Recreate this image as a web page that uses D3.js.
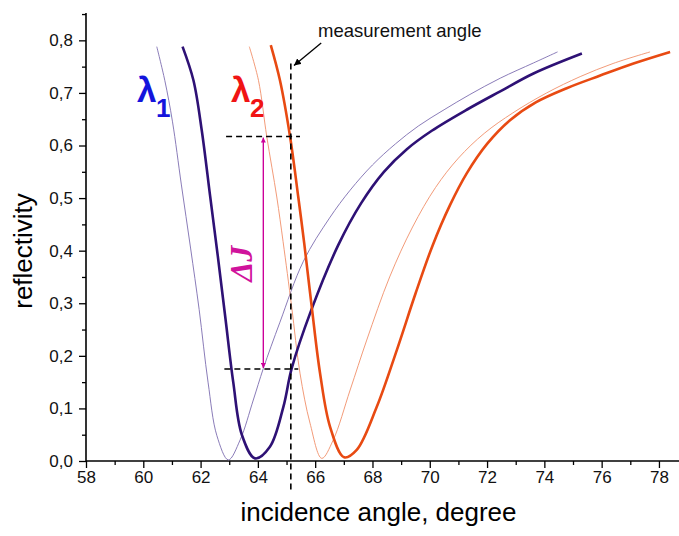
<!DOCTYPE html>
<html>
<head>
<meta charset="utf-8">
<script src="https://cdn.jsdelivr.net/npm/d3@7"></script>
<style>
  body { margin: 0; background: #fff; }
  svg { display: block; font-family: "Liberation Sans", Arial, sans-serif; }
</style>
</head>
<body>
<svg id="chart"></svg>
<script>
// reflectivity curves: [incidence angle, reflectivity]
const lambda1Thin = [[60.47,0.788],[60.75,0.724],[61.02,0.645],[61.33,0.525],[61.65,0.405],[61.95,0.288],[62.26,0.150],[62.57,0.048],[62.97,0.002],[63.38,0.040],[63.84,0.116],[64.19,0.176],[64.77,0.264],[65.59,0.380],[66.5,0.462],[67.22,0.515],[68.0,0.563],[68.8,0.603],[69.6,0.637],[70.5,0.668],[71.4,0.697],[72.46,0.728],[73.62,0.757],[74.46,0.778]];
const lambda1Thick = [[61.37,0.788],[61.75,0.724],[62.04,0.629],[62.33,0.505],[62.60,0.390],[62.87,0.270],[63.14,0.150],[63.44,0.050],[63.90,0.005],[64.42,0.027],[64.89,0.103],[65.18,0.176],[65.85,0.285],[66.8,0.410],[67.6,0.490],[68.4,0.550],[69.2,0.593],[70.07,0.628],[71.29,0.668],[72.46,0.703],[73.62,0.737],[75.31,0.775]];
const lambda2Thin = [[63.70,0.788],[64.02,0.724],[64.31,0.617],[64.66,0.502],[64.88,0.417],[65.18,0.293],[65.47,0.167],[65.82,0.072],[66.23,0.005],[66.63,0.040],[67.22,0.135],[67.80,0.230],[68.6,0.350],[69.4,0.445],[70.2,0.520],[71.0,0.576],[71.9,0.623],[72.9,0.662],[74.08,0.700],[75.25,0.731],[76.4,0.756],[77.69,0.778]];
const lambda2Thick = [[64.45,0.791],[64.77,0.724],[65.12,0.618],[65.41,0.502],[65.62,0.413],[65.88,0.293],[66.17,0.167],[66.52,0.065],[67.01,0.007],[67.45,0.021],[68.15,0.103],[68.85,0.211],[69.5,0.318],[70.1,0.410],[70.71,0.487],[71.29,0.547],[72.0,0.603],[72.8,0.648],[73.7,0.682],[74.78,0.709],[75.95,0.733],[77.11,0.756],[78.39,0.778]];

// annotation values
const measurementAngle = 65.15;
const levelHigh = 0.617;
const levelLow = 0.175;
const deltaAngle = 64.19;

const xTicks = [58, 60, 62, 64, 66, 68, 70, 72, 74, 76, 78];
const xMinor = [59, 61, 63, 65, 67, 69, 71, 73, 75, 77];
const yTicks = [0, 0.1, 0.2, 0.3, 0.4, 0.5, 0.6, 0.7, 0.8];
const yMinor = [0.05, 0.15, 0.25, 0.35, 0.45, 0.55, 0.65, 0.75, 0.85];

const width = 679, height = 536;
const margin = { top: 13, right: 0, bottom: 75, left: 86 };

const svg = d3.select('#chart').attr('width', width).attr('height', height);

const x = d3.scaleLinear().domain([58, 78.7]).range([margin.left, width - margin.right]);
const y = d3.scaleLinear().domain([0, 0.852]).range([height - margin.bottom, margin.top]);

const comma = d => d3.format('.1f')(d).replace('.', ',');

// axes
const xAxisG = svg.append('g').attr('transform', `translate(0,${y(0)})`);
xAxisG.call(d3.axisBottom(x).tickValues(xTicks).tickSize(7).tickSizeOuter(0).tickPadding(3).tickFormat(d3.format('d')));
xAxisG.append('g').call(d3.axisBottom(x).tickValues(xMinor).tickSize(4).tickFormat(''))
  .select('.domain').remove();

const yAxisG = svg.append('g').attr('transform', `translate(${x(58)},0)`);
yAxisG.call(d3.axisLeft(y).tickValues(yTicks).tickSize(7).tickSizeOuter(0).tickPadding(6).tickFormat(comma));
yAxisG.append('g').call(d3.axisLeft(y).tickValues(yMinor).tickSize(4).tickFormat(''))
  .select('.domain').remove();

svg.selectAll('.domain').attr('stroke', '#000').attr('stroke-width', 1.6);
svg.selectAll('.tick line').attr('stroke', '#000').attr('stroke-width', 1.3);
svg.selectAll('.tick text').attr('font-size', 17).attr('fill', '#111')
  .attr('font-family', '"Liberation Sans", Arial, sans-serif');
// extend the axis lines to the frame edges
yAxisG.select('.domain').attr('d', `M0,${y(0)}V${margin.top}`);
xAxisG.select('.domain').attr('d', `M${x(58)},0H${width}`);

// axis titles
svg.append('text')
  .attr('x', (x(58) + width) / 2 - 4)
  .attr('y', 521)
  .attr('text-anchor', 'middle')
  .attr('font-size', 26)
  .text('incidence angle, degree');

svg.append('g')
  .attr('transform', `translate(32, 251)`)
  .append('text')
  .attr('transform', 'rotate(-90)')
  .attr('text-anchor', 'middle')
  .attr('font-size', 26)
  .text('reflectivity');

// curves
const line = d3.line()
  .x(d => x(d[0]))
  .y(d => y(d[1]))
  .curve(d3.curveCatmullRom.alpha(0.5));

const series = [
  { data: lambda1Thin, color: '#7d6db0', w: 0.9 },
  { data: lambda2Thin, color: '#f0906a', w: 0.9 },
  { data: lambda1Thick, color: '#2e1175', w: 2.6 },
  { data: lambda2Thick, color: '#e84a12', w: 2.6 }
];

svg.selectAll('path.curve').data(series)
  .join('path')
    .attr('class', 'curve')
    .attr('fill', 'none')
    .attr('stroke', d => d.color)
    .attr('stroke-width', d => d.w)
    .attr('stroke-linejoin', 'round')
    .attr('d', d => line(d.data));

// markers
const defs = svg.append('defs');
defs.append('marker')
  .attr('id', 'arrMag')
  .attr('viewBox', '0 0 10 10')
  .attr('refX', 10).attr('refY', 5)
  .attr('markerWidth', 5).attr('markerHeight', 5)
  .attr('orient', 'auto-start-reverse')
  .attr('markerUnits', 'userSpaceOnUse')
  .append('path').attr('d', 'M0,0L10,5L0,10z').attr('fill', '#cc0099');
defs.append('marker')
  .attr('id', 'arrBlk')
  .attr('viewBox', '0 0 10 10')
  .attr('refX', 10).attr('refY', 5)
  .attr('markerWidth', 7).attr('markerHeight', 7)
  .attr('orient', 'auto')
  .attr('markerUnits', 'userSpaceOnUse')
  .append('path').attr('d', 'M0,0L10,5L0,10z').attr('fill', '#000');

// dashed guides
const dash = '6,4';
svg.append('line')
  .attr('x1', x(measurementAngle)).attr('x2', x(measurementAngle))
  .attr('y1', y(0.756)).attr('y2', y(-0.055))
  .attr('stroke', '#000').attr('stroke-width', 1.6).attr('stroke-dasharray', dash);
svg.append('line')
  .attr('x1', x(62.89)).attr('x2', x(65.47))
  .attr('y1', y(levelHigh)).attr('y2', y(levelHigh))
  .attr('stroke', '#000').attr('stroke-width', 1.6).attr('stroke-dasharray', dash);
svg.append('line')
  .attr('x1', x(62.83)).attr('x2', x(65.41))
  .attr('y1', y(levelLow)).attr('y2', y(levelLow))
  .attr('stroke', '#000').attr('stroke-width', 1.6).attr('stroke-dasharray', dash);

// delta J arrow
svg.append('line')
  .attr('x1', x(deltaAngle)).attr('x2', x(deltaAngle))
  .attr('y1', y(levelHigh) + 1).attr('y2', y(levelLow) - 1)
  .attr('stroke', '#cc0099').attr('stroke-width', 1.4)
  .attr('marker-start', 'url(#arrMag)')
  .attr('marker-end', 'url(#arrMag)');

svg.append('g')
  .attr('transform', `translate(${x(deltaAngle) - 11}, ${y(0.375)})`)
  .append('text')
  .attr('transform', 'rotate(-90)')
  .attr('text-anchor', 'middle')
  .attr('font-family', '"Liberation Serif", "Times New Roman", serif')
  .attr('font-style', 'italic')
  .attr('font-weight', 'bold')
  .attr('font-size', 32)
  .attr('fill', '#d0139c')
  .text('ΔJ');

// measurement angle note
svg.append('text')
  .attr('x', x(66.10)).attr('y', y(0.806))
  .attr('font-size', 18.5)
  .attr('fill', '#111')
  .text('measurement angle');
svg.append('line')
  .attr('x1', x(66.21)).attr('y1', y(0.795))
  .attr('x2', x(65.26)).attr('y2', y(0.752))
  .attr('stroke', '#000').attr('stroke-width', 1.3)
  .attr('marker-end', 'url(#arrBlk)');

// wavelength labels
const lambdaLabels = [
  { x: 59.78, sub: '1', color: '#1414dc' },
  { x: 63.06, sub: '2', color: '#f01414' }
];
lambdaLabels.forEach(l => {
  svg.append('text')
    .attr('x', x(l.x)).attr('y', y(0.683))
    .attr('font-size', 35).attr('font-weight', 'bold')
    .attr('fill', l.color)
    .text('λ');
  svg.append('text')
    .attr('x', x(l.x) + 19).attr('y', y(0.654))
    .attr('font-size', 26).attr('font-weight', 'bold')
    .attr('fill', l.color)
    .text(l.sub);
});
</script>
</body>
</html>
